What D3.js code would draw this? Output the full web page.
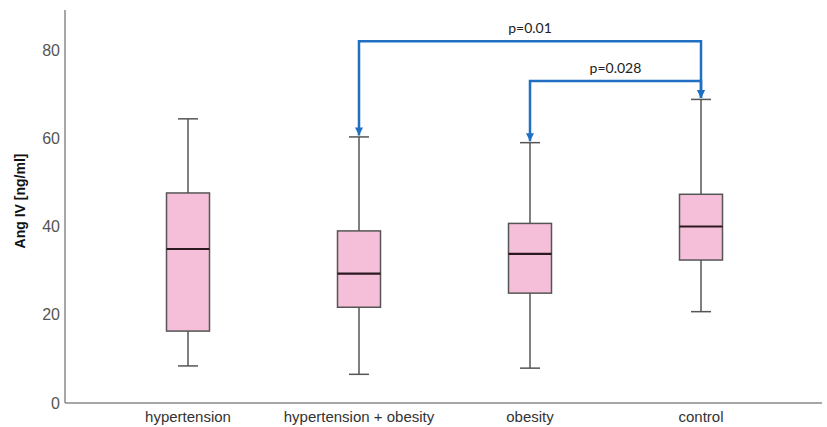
<!DOCTYPE html>
<html><head><meta charset="utf-8">
<script src="https://cdn.jsdelivr.net/npm/d3@7"></script>
<style>body{margin:0;background:#fff}svg{display:block}</style>
</head><body>
<script>
const categories = ["hypertension", "hypertension + obesity", "obesity", "control"];
const whiskerLow = [8.4, 6.5, 7.9, 20.7];
const q1 = [16.3, 21.7, 24.9, 32.4];
const medians = [34.9, 29.3, 33.8, 40.0];
const q3 = [47.6, 39.0, 40.7, 47.3];
const whiskerHigh = [64.4, 60.3, 59.0, 68.8];
const yTicks = [0, 20, 40, 60, 80];
const comparisons = [
  {from: "hypertension + obesity", to: "control", level: 82, label: "p=0.01"},
  {from: "obesity", to: "control", level: 73, label: "p=0.028"}
];

const W = 827, H = 427;
const svg = d3.select("body").append("svg").attr("width", W).attr("height", H);

const x = d3.scaleBand().domain(categories).range([102.5, 786.5]).padding(0);
const y = d3.scaleLinear().domain([0, 80]).range([403, 50]);
const cx = c => x(c) + x.bandwidth() / 2;
const boxW = 43, capW = 20;

const data = categories.map((c, i) => ({c, lo: whiskerLow[i], q1: q1[i], med: medians[i], q3: q3[i], hi: whiskerHigh[i]}));

// axes
svg.append("line").attr("x1", 65).attr("x2", 65).attr("y1", 10).attr("y2", y(0))
  .attr("stroke", "#8a8a8a").attr("stroke-width", 1.5);
svg.append("line").attr("x1", 65).attr("x2", 822).attr("y1", y(0)).attr("y2", y(0))
  .attr("stroke", "#8a8a8a").attr("stroke-width", 1.5);

const yAxis = d3.axisLeft(y).tickValues(yTicks).tickSize(0).tickPadding(0);
const gy = svg.append("g").attr("transform", "translate(60,0)").call(yAxis);
gy.select(".domain").remove();
gy.selectAll("text").attr("font-family", "Liberation Sans, Arial, sans-serif")
  .attr("font-size", 16).attr("fill", "#555");

const xAxis = d3.axisBottom(x).tickSize(0).tickPadding(0);
const gx = svg.append("g").attr("transform", "translate(0,411)").call(xAxis);
gx.select(".domain").remove();
gx.selectAll("text").attr("font-family", "Liberation Sans, Arial, sans-serif")
  .attr("font-size", 15).attr("fill", "#333");

svg.append("text").attr("transform", "translate(25,201) rotate(-90)")
  .attr("text-anchor", "middle").attr("font-family", "Liberation Sans, Arial, sans-serif")
  .attr("font-weight", "bold").attr("font-size", 14).attr("fill", "#111").text("Ang IV [ng/ml]");

// boxes
const g = svg.append("g").selectAll("g").data(data).join("g");
g.append("line").attr("x1", d => cx(d.c)).attr("x2", d => cx(d.c))
  .attr("y1", d => y(d.hi)).attr("y2", d => y(d.lo)).attr("stroke", "#555").attr("stroke-width", 1.5);
g.append("line").attr("x1", d => cx(d.c) - capW / 2).attr("x2", d => cx(d.c) + capW / 2)
  .attr("y1", d => y(d.hi)).attr("y2", d => y(d.hi)).attr("stroke", "#555").attr("stroke-width", 1.5);
g.append("line").attr("x1", d => cx(d.c) - capW / 2).attr("x2", d => cx(d.c) + capW / 2)
  .attr("y1", d => y(d.lo)).attr("y2", d => y(d.lo)).attr("stroke", "#555").attr("stroke-width", 1.5);
g.append("rect").attr("x", d => cx(d.c) - boxW / 2).attr("width", boxW)
  .attr("y", d => y(d.q3)).attr("height", d => y(d.q1) - y(d.q3))
  .attr("fill", "#f6bfd9").attr("stroke", "#555").attr("stroke-width", 1.5);
g.append("line").attr("x1", d => cx(d.c) - boxW / 2).attr("x2", d => cx(d.c) + boxW / 2)
  .attr("y1", d => y(d.med)).attr("y2", d => y(d.med)).attr("stroke", "#2a1a20").attr("stroke-width", 2.2);

// comparison brackets
const blue = "#1f6fc3";
svg.append("defs").append("marker").attr("id", "arr").attr("viewBox", "0 0 10 10")
  .attr("refX", 10).attr("refY", 5).attr("markerWidth", 3.2).attr("markerHeight", 3.2)
  .attr("markerUnits", "strokeWidth").attr("orient", "auto")
  .append("path").attr("d", "M0,0 L10,5 L0,10 z").attr("fill", blue);

comparisons.forEach(cmp => {
  const i1 = categories.indexOf(cmp.from), i2 = categories.indexOf(cmp.to);
  const x1 = cx(cmp.from), x2 = cx(cmp.to), yl = y(cmp.level);
  const yEnd1 = y(whiskerHigh[i1]) - 1.5, yEnd2 = y(whiskerHigh[i2]) - 1.5;
  svg.append("path").attr("d", `M${x2},${yl} L${x1},${yl} L${x1},${yEnd1}`)
    .attr("fill", "none").attr("stroke", blue).attr("stroke-width", 2.5).attr("marker-end", "url(#arr)");
  svg.append("path").attr("d", `M${x2},${yl - 1.2} L${x2},${yEnd2}`)
    .attr("fill", "none").attr("stroke", blue).attr("stroke-width", 2.5).attr("marker-end", "url(#arr)");
  svg.append("text").attr("x", (x1 + x2) / 2).attr("y", yl - 8)
    .attr("text-anchor", "middle").attr("font-family", "Lato, Open Sans, sans-serif")
    .attr("font-size", 14).attr("fill", "#222").text(cmp.label);
});
</script>
</body></html>
